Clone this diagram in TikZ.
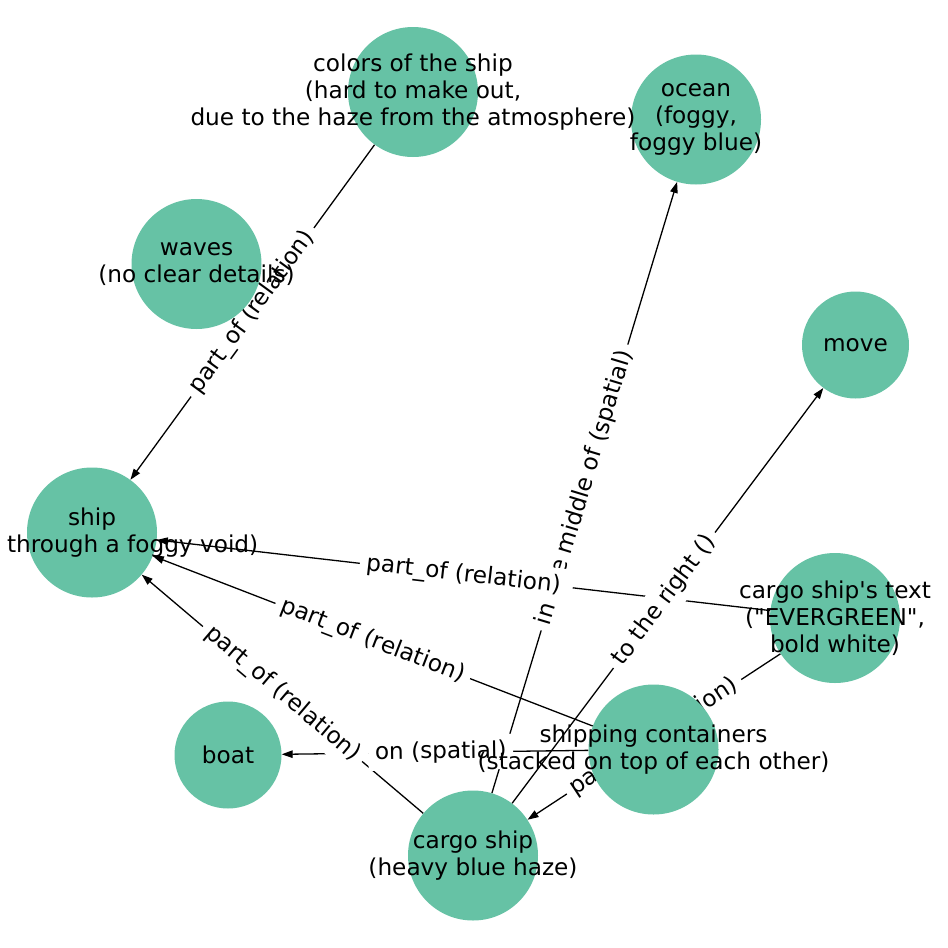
\documentclass[tikz,border=0pt]{standalone}
\usepackage{fontspec}
\setmainfont{DejaVu Sans}
\usetikzlibrary{arrows.meta}
\pgfdeclarelayer{bglayer}
\pgfdeclarelayer{edgelayer}
\pgfdeclarelayer{labellayer}
\pgfsetlayers{bglayer,edgelayer,labellayer,main}
\definecolor{nodecol}{HTML}{66C2A5}
\begin{document}
\begin{tikzpicture}[x=1pt,y=-1pt,
  every node/.style={font=\fontsize{23.2}{27.2}\selectfont},
  bignode/.style={circle,fill=nodecol,minimum size=130pt,inner sep=0pt},
  smallnode/.style={circle,fill=nodecol,minimum size=107pt,inner sep=0pt},
  txt/.style={align=center,inner sep=0pt,text=black},
  edge/.style={draw=black,line width=1.3pt,-{Triangle[length=11pt,width=7.5pt]}},
  elabel/.style={midway,sloped,fill=white,inner sep=6.5pt,text=black,rounded corners=3pt}]
\useasboundingbox (0,0) rectangle (948,948);
\begin{pgfonlayer}{bglayer}
\fill[white] (0,0) rectangle (948,948);
\end{pgfonlayer}
\clip (0,0) rectangle (948,948);
% nodes
\node[bignode] (colors) at (413,92) {};
\node[bignode] (ocean) at (696,119.5) {};
\node[bignode] (waves) at (196.5,264) {};
\node[smallnode] (move) at (855.5,345) {};
\node[bignode] (ship) at (92,532.5) {};
\node[bignode] (text) at (835,618) {};
\node[smallnode] (boat) at (228,755) {};
\node[bignode] (cont) at (653.5,749.5) {};
\node[bignode] (cargo) at (473,855.5) {};
% node texts
\node[txt] (colors-t) at (colors) {colors of the ship\\(hard to make out,\\due to the haze from the atmosphere)};
\node[txt] (ocean-t) at (ocean) {ocean\\(foggy,\\foggy blue)};
\node[txt] (waves-t) at (waves) {waves\\(no clear details)};
\node[txt] (move-t) at (move) {move};
\node[txt] (ship-t) at (ship) {ship\\(going through a foggy void)};
\node[txt] (text-t) at (text) {cargo ship\textquotesingle s text\\(\textquotedbl EVERGREEN\textquotedbl,\\bold white)};
\node[txt] (boat-t) at (boat) {boat};
\node[txt] (cont-t) at (cont) {shipping containers\\(stacked on top of each other)};
\node[txt] (cargo-t) at (cargo) {cargo ship\\(heavy blue haze)};
% edges
\begin{pgfonlayer}{edgelayer}
\draw[edge] (colors) -- (ship);
\draw[edge] (cargo) -- (ocean);
\draw[edge] (cargo) -- (move);
\draw[edge] (cargo) -- (ship);
\draw[edge] (text) -- (ship);
\draw[edge] (text) -- (cargo);
\draw[edge] (cont) -- (ship);
\draw[edge] (cont) -- (boat);
\end{pgfonlayer}
% edge labels
\begin{pgfonlayer}{labellayer}
\path (colors.center) -- (ship.center) node[elabel] {part\_of (relation)};
\path (cargo.center) -- (ocean.center) node[elabel] {in the middle of (spatial)};
\path (text.center) -- (ship.center) node[elabel] {part\_of (relation)};
\path (cargo.center) -- (ship.center) node[elabel] {part\_of (relation)};
\path (cont.center) -- (ship.center) node[elabel] {part\_of (relation)};
\path (cont.center) -- (boat.center) node[elabel] {on (spatial)};
\path (text.center) -- (cargo.center) node[elabel] {part\_of (relation)};
\path (cargo.center) -- (move.center) node[elabel] {to the right ()};
\end{pgfonlayer}
\end{tikzpicture}
\end{document}
